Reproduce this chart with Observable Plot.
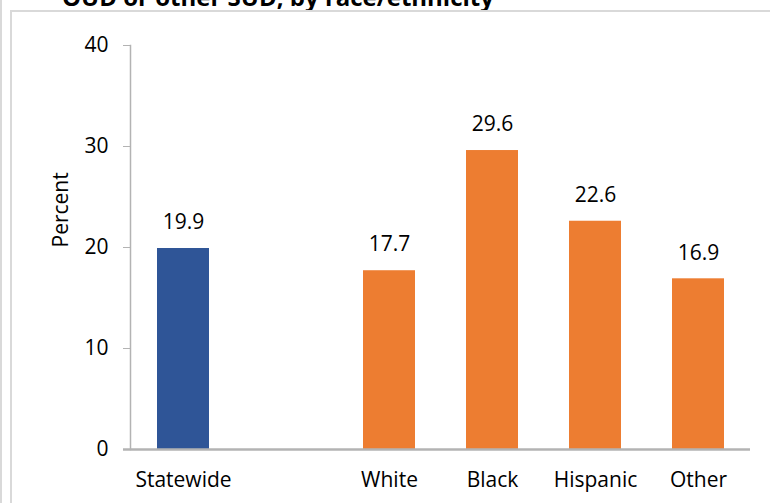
<!DOCTYPE html>
<html>
<head>
<meta charset="utf-8">
<script src="https://cdn.jsdelivr.net/npm/d3@7"></script>
<script src="https://cdn.jsdelivr.net/npm/@observablehq/plot@0.6"></script>
<style>
  html, body { margin: 0; padding: 0; background: #fff; overflow: hidden; }
  #wrap { position: relative; width: 770px; height: 503px; overflow: hidden; }
  #title { position: absolute; left: 62px; top: -20px; font: bold 24px "Open Sans", sans-serif; color: #000; white-space: nowrap; }
  .bl { position: absolute; background: #d9d9d9; }
  #chart { position: absolute; left: 0; top: 0; }
</style>
</head>
<body>
<div id="wrap">
  <div id="title">OUD or other SUD, by race/ethnicity</div>
  <div class="bl" style="left:0px;top:0;width:2px;height:503px;"></div>
  <div class="bl" style="left:10px;top:10px;width:2px;height:493px;"></div>
  <div class="bl" style="left:10px;top:10px;width:760px;height:2px;"></div>
  <div id="chart"></div>
</div>
<script>
const categories = ["Statewide", "", "White", "Black", "Hispanic", "Other"];
const values = [19.9, null, 17.7, 29.6, 22.6, 16.9];
const groups = ["Statewide", null, "Group", "Group", "Group", "Group"];
const yTicks = [0, 10, 20, 30, 40];
const colors = { Statewide: "#2F5597", Group: "#ED7D31" };

const data = categories.map((c, i) => ({ cat: c, value: values[i], group: groups[i] }))
  .filter(d => d.value != null);

const font = "'Open Sans', sans-serif";
const fs = 21;
const chart = Plot.plot({
  width: 770,
  height: 503,
  marginLeft: 130,
  marginRight: 20,
  marginTop: 45,
  marginBottom: 54,
  style: { fontFamily: font, fontSize: fs + "px", color: "#000", background: "transparent" },
  x: { domain: categories, paddingInner: 0.5, paddingOuter: 0.25, label: null },
  y: { domain: [0, 40], label: null },
  marks: [
    Plot.barY(data, { x: "cat", y: "value", fill: d => colors[d.group] }),
    Plot.text(data, { x: "cat", y: "value", text: d => d.value.toFixed(1), dy: -26, fontSize: fs, fill: "#000" }),
    Plot.frame({ anchor: "left", stroke: "#b3b3b3", strokeWidth: 1.5 }),
    Plot.ruleY([0], { stroke: "#b3b3b3", strokeWidth: 2.5, insetLeft: -7 }),
    Plot.axisY({ ticks: yTicks, tickSize: 7, tickPadding: 15, stroke: "#b3b3b3", fontSize: fs, label: null }),
    Plot.axisX({ tickSize: 0, tickPadding: 23, fontSize: fs, label: null }),
    Plot.text(["Percent"], { frameAnchor: "left", dx: -69, rotate: -90, fontSize: fs, fill: "#000" })
  ]
});
document.getElementById("chart").appendChild(chart);
</script>
</body>
</html>
